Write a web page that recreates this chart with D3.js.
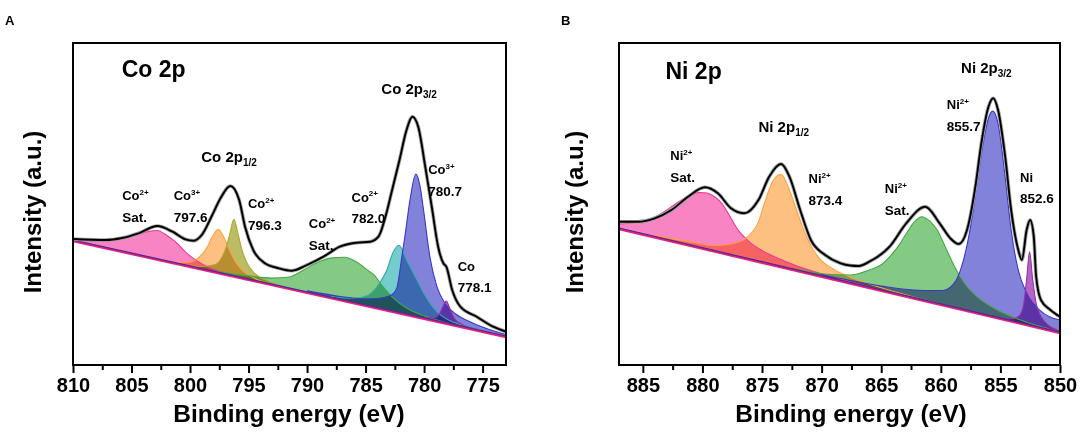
<!DOCTYPE html>
<html lang="en">
<head>
<meta charset="UTF-8">
<title>Co 2p / Ni 2p XPS</title>
<script src="https://d3js.org/d3.v7.min.js"></script>
<style>
  body { margin: 0; background: #fff; }
  text { font-family: "Liberation Sans", Arial, sans-serif; font-weight: bold; fill: #000; }
</style>
</head>
<body>
<script>
// ---------- panel A : Co 2p  (energy eV, intensity a.u.) ----------
var coBackground = [[810, 124], [773, 28]];

var coEnvelope = [
  [810, 126], [807.2, 125], [805.8, 127], [804.4, 131.7], [802.8, 139], [801.5, 133.3],
  [800.4, 125.7], [799.7, 124.3], [799, 130], [798.1, 150], [797.4, 166.7], [796.55, 179],
  [795.8, 165], [795.3, 138.3], [794.6, 115], [793.6, 101.7], [792.4, 96.7], [791.3, 94.3],
  [790, 100], [788.6, 108.3], [787.2, 118.3], [785.75, 122.3], [784.6, 123.3], [783.9, 128.3],
  [783.3, 148.3], [782.8, 171.7], [782.1, 205], [781.5, 235], [781, 248.3], [780.5, 238.3],
  [779.9, 198.3], [779.3, 155], [778.8, 118.3], [778.35, 101.7], [778.1, 98.3], [777.6, 75],
  [776.9, 58.3], [775.5, 48.3], [774.1, 38.3], [773, 33.3]
];

var coSat1 = [
  [810, 126], [808, 123.8], [806.5, 124.9], [805.5, 127.3], [804.5, 130.7], [803.5, 133.6],
  [802.8, 134.5], [802, 129.7], [801, 120.6], [800.4, 113.1], [799.5, 104.8], [798.5, 98.2],
  [797, 91.8], [795, 85.1]
];
var coCo3Low = [
  [801, 102.6], [800, 103.05], [799.2, 108], [798.6, 116.4], [798.1, 128.1], [797.6, 135.8],
  [797.1, 127.5], [796.6, 114.2], [796.1, 102.9], [795.5, 94.4], [794.5, 86.8], [793, 80.9],
  [791, 74.7]
];
var coCo2Low = [
  [800, 99.05], [799, 98.5], [798, 99.9], [797.4, 105.3], [796.9, 118], [796.6, 131.2],
  [796.25, 145.8], [795.9, 131.4], [795.55, 114.5], [795.1, 101.3], [794.5, 91.8], [793.5, 84.7],
  [792, 78.3], [790, 72.1]
];
var coSat2 = [
  [798, 93.9], [795, 89.1], [793, 86.9], [791.5, 88], [790.3, 94.9], [789.2, 102], [788, 106.9],
  [786.8, 107.8], [785.8, 103.2], [784.8, 94.6], [784.3, 90.3], [783.5, 78.2], [782.5, 65.6],
  [781.5, 57], [780, 49.2], [778, 42], [775, 33.2]
];
var coCo2High = [
  [788, 68.9], [786, 66.7], [784.8, 69.6], [783.9, 80.2], [783.2, 94.5], [782.7, 111.2],
  [782.15, 119.7], [781.5, 105], [781, 93.7], [780.6, 84.7], [780, 71.2], [779.5, 61.9],
  [778.8, 52.1], [778.1, 46.2], [776, 37.7], [773, 28.5]
];
var coCo3High = [
  [790, 74.1], [787, 68.3], [785, 66.1], [784, 66.5], [783, 68.9], [782.6, 71.9], [782.3, 78.1],
  [781.9, 108.1], [781.6, 131.8], [781.2, 165.3], [780.7, 191], [780.35, 179.1], [780.05, 155.3],
  [779.5, 107.9], [778.9, 78.3], [778.2, 61.4], [777.3, 51], [776, 42.7], [774.5, 35.8], [773, 30.5]
];
var coMetal = [
  [780, 47.2], [779.2, 47.1], [778.7, 50.8], [778.4, 58.1], [778.1, 63.9], [777.8, 56.4],
  [777.4, 46.4], [776.8, 40.9], [775.5, 35.5], [774, 30.6]
];

var coMajorTicks = [810, 805, 800, 795, 790, 785, 780, 775];
var coMinorTicks = [807.5, 802.5, 797.5, 792.5, 787.5, 782.5, 777.5];

var coTitles = [
  { e: 805.84, i: 288.3, text: "Co 2p", sub: "", size: 23 },
  { e: 783.65, i: 271, text: "Co 2p", sub: "3/2", size: 15 },
  { e: 799.04, i: 203.3, text: "Co 2p", sub: "1/2", size: 15 }
];
var coPeakLabels = [
  { e: 805.8, i: 165, ion: "Co", sup: "2+", note: "Sat." },
  { e: 801.4, i: 165, ion: "Co", sup: "3+", note: "797.6" },
  { e: 795.05, i: 156.7, ion: "Co", sup: "2+", note: "796.3" },
  { e: 789.85, i: 136.7, ion: "Co", sup: "2+", note: "Sat." },
  { e: 786.2, i: 163.3, ion: "Co", sup: "2+", note: "782.0" },
  { e: 779.65, i: 191, ion: "Co", sup: "3+", note: "780.7" },
  { e: 777.13, i: 94.3, ion: "Co", sup: "", note: "778.1" }
];

// ---------- panel B : Ni 2p ----------
var niBackground = [[887, 136], [850, 32]];

var niEnvelope = [
  [887, 143.3], [885.4, 143.3], [884, 146.7], [882.6, 155], [881.2, 168.3], [879.8, 177.7],
  [878.7, 171.7], [877.6, 156.7], [876.5, 151.7], [875.3, 165], [874.4, 188.3], [873.4, 201],
  [872.7, 188.3], [871.8, 155], [870.9, 125], [869.7, 110], [868.4, 101.7], [867.6, 99.5],
  [866.9, 99], [866, 103.3], [864.3, 118.3], [862.9, 141.7], [861.3, 158.3], [860.1, 141.7],
  [859.2, 126.7], [858.5, 121], [857.8, 135], [857.1, 178.3], [856.6, 221.7], [856, 258.3],
  [855.6, 266.7], [855.2, 255], [854.6, 208.3], [854.1, 155], [853.5, 115], [853.2, 105],
  [852.8, 135], [852.5, 145], [852.2, 128.3], [852, 88.3], [851.6, 65], [850.8, 55], [850, 48.3]
];

var niSat1 = [
  [887, 141], [885.5, 142.8], [884.3, 146.4], [883.2, 153.3], [882.3, 160.8], [881.2, 168.7],
  [880.4, 172.4], [879.8, 172.3], [879, 168.5], [878.3, 160.5], [877.6, 146.6], [877, 134.9],
  [876.2, 124.6], [875.2, 115.8], [874, 108.5], [872, 98.8], [869, 87.9], [865, 75.2], [860, 60.1]
];
var niNi2Low = [
  [884, 129.6], [881, 123.1], [879, 119.5], [877.5, 121.3], [876.5, 125.5], [875.9, 131.8],
  [875.3, 143.1], [874.8, 161.7], [874.1, 183.7], [873.4, 190.8], [872.8, 178.1], [872.3, 161.7],
  [871.4, 132.1], [870.3, 108.1], [868.9, 95.1], [867.5, 87.2], [865, 77.2], [861, 63.9], [857, 51.7]
];
var niSat2 = [
  [872, 95.8], [869.5, 90.8], [867.6, 90], [866, 95], [865, 100.2], [864.3, 108.2], [863.5, 119.9],
  [862.9, 131.3], [862.2, 143.3], [861.6, 148.3], [860.9, 143.6], [860.3, 135], [859.5, 114.7],
  [858.7, 95], [858, 81.5], [857, 68.7], [855.5, 56.5], [853.5, 45.8], [851, 36.3], [850, 33]
];
var niNi2High = [
  [870, 90.2], [866, 81], [864.8, 78.6], [862.3, 75], [860.5, 74.5], [859.8, 74.5], [859.2, 77.9],
  [858.7, 85], [858.1, 104.8], [857.55, 135.2], [857, 178.3], [856.4, 225], [856, 246.9],
  [855.65, 253.9], [855.2, 241.6], [854.6, 187.9], [854.1, 135], [853.5, 94.8], [852.8, 71.9],
  [851.7, 54.8], [850, 45]
];
var niMetal = [
  [855, 47], [854, 46.2], [853.4, 49.5], [853.05, 60.6], [852.8, 85.9], [852.55, 113.2],
  [852.3, 86.5], [852, 61.7], [851.7, 50.8], [851.4, 45], [850.8, 38.3], [850, 34]
];

var niMajorTicks = [885, 880, 875, 870, 865, 860, 855, 850];
var niMinorTicks = [882.5, 877.5, 872.5, 867.5, 862.5, 857.5, 852.5];

var niTitles = [
  { e: 883.1, i: 286, text: "Ni 2p", sub: "", size: 23 },
  { e: 858.3, i: 291.7, text: "Ni 2p", sub: "3/2", size: 15 },
  { e: 875.3, i: 232.7, text: "Ni 2p", sub: "1/2", size: 15 }
];
var niPeakLabels = [
  { e: 882.7, i: 205, ion: "Ni", sup: "2+", note: "Sat." },
  { e: 871.1, i: 181.7, ion: "Ni", sup: "2+", note: "873.4" },
  { e: 864.7, i: 171.7, ion: "Ni", sup: "2+", note: "Sat." },
  { e: 859.5, i: 255.7, ion: "Ni", sup: "2+", note: "855.7" },
  { e: 853.35, i: 183.3, ion: "Ni", sup: "", note: "852.6" }
];

// component colours (fill, outline)
var pink = ["#f884c4", "#ee3a9a"];
var orange = ["#fdc080", "#ffa040"];
var olive = ["#bcbc64", "#a8a838"];
var green = ["#84ca84", "#45a845"];
var teal = ["#74cccc", "#38a8a8"];
var blue = ["#8282da", "#3838c8"];
var purple = ["#b464c4", "#9a30a8"];

var svg = d3.select("body").append("svg")
  .attr("width", 1084)
  .attr("height", 440);

var plotTop = 43, plotBottom = 365;

function drawPanel(p) {
  var x = d3.scaleLinear().domain(p.domain).range([p.left, p.right]);
  var y = d3.scaleLinear().domain([0, 322]).range([plotBottom, plotTop]);

  var g = svg.append("g");

  // region above the background line
  var bg = p.background;
  var clipId = "above-" + p.id;
  g.append("clipPath").attr("id", clipId)
    .append("path")
    .attr("d", "M" + x(bg[0][0]) + "," + y(bg[0][1]) +
               "L" + x(bg[1][0]) + "," + y(bg[1][1]) +
               "L" + x(bg[1][0]) + "," + plotTop +
               "L" + x(bg[0][0]) + "," + plotTop + "Z");

  var area = d3.area()
    .x(d => x(d[0]))
    .y0(plotBottom)
    .y1(d => y(d[1]))
    .curve(d3.curveMonotoneX);
  var line = d3.line()
    .x(d => x(d[0]))
    .y(d => y(d[1]))
    .curve(d3.curveMonotoneX);

  var fills = g.append("g")
    .attr("clip-path", "url(#" + clipId + ")")
    .style("isolation", "isolate");

  fills.selectAll("path.fill")
    .data(p.components)
    .enter()
    .append("path")
    .attr("class", "fill")
    .attr("d", d => area(d.pts))
    .style("fill", d => d.color[0])
    .style("mix-blend-mode", "multiply");

  fills.selectAll("path.edge")
    .data(p.components)
    .enter()
    .append("path")
    .attr("class", "edge")
    .attr("d", d => line(d.pts))
    .style("fill", "none")
    .style("stroke", d => d.color[1])
    .style("stroke-width", 1.1);

  // background line
  g.append("path").attr("d", line.curve(d3.curveLinear)(bg))
    .style("fill", "none").style("stroke", "#e8207a").style("stroke-width", 2.4);
  g.append("path").attr("d", line(bg))
    .attr("transform", "translate(0,-1)")
    .style("fill", "none").style("stroke", "#4a2a9a").style("stroke-width", 1.2);
  line.curve(d3.curveMonotoneX);

  // raw data haze + envelope
  g.append("path").attr("d", line(p.envelope))
    .style("fill", "none").style("stroke", "#a0a0a0").style("stroke-width", 3.6);
  g.append("path").attr("d", line(p.envelope))
    .style("fill", "none").style("stroke", "#000").style("stroke-width", 1.9);

  // frame
  g.append("rect")
    .attr("x", p.left).attr("y", plotTop)
    .attr("width", p.right - p.left).attr("height", plotBottom - plotTop)
    .style("fill", "none").style("stroke", "#000").style("stroke-width", 2);

  // axes
  var major = g.append("g")
    .attr("transform", "translate(0," + plotBottom + ")")
    .call(d3.axisBottom(x).tickValues(p.majors).tickSize(8).tickPadding(5).tickFormat(d3.format("d")));
  var minor = g.append("g")
    .attr("transform", "translate(0," + plotBottom + ")")
    .call(d3.axisBottom(x).tickValues(p.minors).tickSize(5).tickFormat(""));
  [major, minor].forEach(function(a) {
    a.select(".domain").remove();
    a.selectAll("line").style("stroke", "#000").style("stroke-width", 2);
  });
  major.selectAll("text")
    .style("font-size", "20px")
    .style("font-family", '"Liberation Sans", Arial, sans-serif')
    .style("font-weight", "bold")
    .style("fill", "#000");

  g.append("text")
    .attr("x", p.xTitleX).attr("y", 421.5)
    .attr("text-anchor", "middle")
    .style("font-size", "24.5px")
    .text("Binding energy (eV)");

  g.append("text")
    .attr("transform", "translate(" + p.yTitleX + ",212) rotate(-90)")
    .attr("text-anchor", "middle")
    .style("font-size", "24px")
    .text("Intensity (a.u.)");

  g.append("text")
    .attr("x", p.letterX).attr("y", 25)
    .style("font-size", "13px")
    .text(p.letter);

  // region titles
  p.titles.forEach(function(t) {
    var txt = g.append("text")
      .attr("x", x(t.e)).attr("y", y(t.i))
      .style("font-size", t.size + "px");
    txt.append("tspan").text(t.text);
    if (t.sub) {
      txt.append("tspan").attr("dy", 4).style("font-size", "10px").text(t.sub);
    }
  });

  // peak labels
  p.labels.forEach(function(l) {
    var t1 = g.append("text")
      .attr("x", x(l.e)).attr("y", y(l.i))
      .style("font-size", "13px");
    t1.append("tspan").text(l.ion);
    if (l.sup) {
      t1.append("tspan").attr("dy", -5.5).style("font-size", "8px").text(l.sup);
    }
    g.append("text")
      .attr("x", x(l.e)).attr("y", y(l.i) + 21.5)
      .style("font-size", "13.5px")
      .text(l.note);
  });
}

drawPanel({
  id: "co", letter: "A", letterX: 5,
  domain: [810, 773], left: 73, right: 506,
  xTitleX: 289, yTitleX: 41,
  background: coBackground, envelope: coEnvelope,
  components: [
    { pts: coSat1, color: pink },
    { pts: coCo3Low, color: orange },
    { pts: coCo2Low, color: olive },
    { pts: coSat2, color: green },
    { pts: coCo2High, color: teal },
    { pts: coCo3High, color: blue },
    { pts: coMetal, color: purple }
  ],
  majors: coMajorTicks, minors: coMinorTicks,
  titles: coTitles, labels: coPeakLabels
});

drawPanel({
  id: "ni", letter: "B", letterX: 561,
  domain: [887, 850], left: 619, right: 1060,
  xTitleX: 851, yTitleX: 583,
  background: niBackground, envelope: niEnvelope,
  components: [
    { pts: niSat1, color: pink },
    { pts: niNi2Low, color: orange },
    { pts: niSat2, color: green },
    { pts: niNi2High, color: blue },
    { pts: niMetal, color: purple }
  ],
  majors: niMajorTicks, minors: niMinorTicks,
  titles: niTitles, labels: niPeakLabels
});
</script>
</body>
</html>
